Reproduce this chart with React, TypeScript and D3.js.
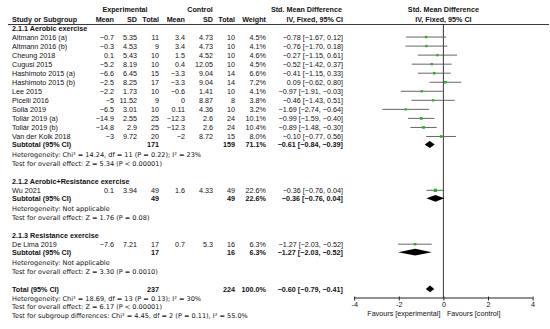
import React, { useEffect, useRef } from 'react';
import * as d3 from 'd3';

// study level data
const studyNames = [
  'Altmann 2016  (a)', 'Altmann 2016  (b)', 'Cheung 2018', 'Cugusi 2015',
  'Hashimoto 2015  (a)', 'Hashimoto 2015  (b)', 'Lee 2015', 'Picelli 2016',
  'Solla 2019', 'Tollár 2019  (a)', 'Tollár 2019  (b)', 'Van der Kolk 2018',
  'Wu 2021', 'De Lima 2019',
];
const studyGroup = [0, 0, 0, 0, 0, 0, 0, 0, 0, 0, 0, 0, 1, 2];
const expMean = [-0.7, -0.3, 0.1, -5.2, -6.6, -2.5, -2.2, -5, -6.5, -14.9, -14.8, -3, 0.1, -7.6];
const expSD = [5.35, 4.53, 5.43, 8.19, 6.45, 8.25, 1.73, 11.52, 3.01, 2.55, 2.9, 9.72, 3.94, 7.21];
const expN = [11, 9, 10, 10, 15, 17, 10, 9, 10, 25, 25, 20, 49, 17];
const ctlMean = [3.4, 3.4, 1.5, 0.4, -3.3, -3.3, -0.6, 0, 0.11, -12.3, -12.3, -2, 1.6, 0.7];
const ctlSD = [4.73, 4.73, 4.52, 12.05, 9.04, 9.04, 1.41, 8.87, 4.36, 2.6, 2.6, 8.72, 4.33, 5.3];
const ctlN = [10, 10, 10, 10, 14, 14, 10, 8, 10, 24, 24, 15, 49, 16];
const weight = [4.5, 4.1, 4.6, 4.5, 6.6, 7.2, 4.1, 3.8, 3.2, 10.1, 10.4, 8.0, 22.6, 6.3];
const smd = [-0.78, -0.76, -0.27, -0.52, -0.41, 0.09, -0.97, -0.46, -1.69, -0.99, -0.89, -0.10, -0.36, -1.27];
const ciLo = [-1.67, -1.70, -1.15, -1.42, -1.15, -0.62, -1.91, -1.43, -2.74, -1.59, -1.48, -0.77, -0.76, -2.03];
const ciHi = [0.12, 0.18, 0.61, 0.37, 0.33, 0.80, -0.03, 0.51, -0.64, -0.40, -0.30, 0.56, 0.04, -0.52];

// subgroups
const groupNames = ['2.1.1 Aerobic exercise', '2.1.2 Aerobic+Resistance exercise', '2.1.3 Resistance exercise'];
const groupExpN = [171, 49, 17];
const groupCtlN = [159, 49, 16];
const groupWeight = [71.1, 22.6, 6.3];
const groupSmd = [-0.61, -0.36, -1.27];
const groupLo = [-0.84, -0.76, -2.03];
const groupHi = [-0.39, 0.04, -0.52];
const groupHet = [
  'Heterogeneity: Chi² = 14.24, df = 11 (P = 0.22); I² = 23%',
  'Heterogeneity: Not applicable',
  'Heterogeneity: Not applicable',
];
const groupTest = [
  'Test for overall effect: Z = 5.34 (P < 0.00001)',
  'Test for overall effect: Z = 1.76 (P = 0.08)',
  'Test for overall effect: Z = 3.30 (P = 0.0010)',
];

// overall
const totalExpN = 237;
const totalCtlN = 224;
const totalWeight = 100.0;
const totalSmd = -0.60;
const totalLo = -0.79;
const totalHi = -0.41;
const totalNotes = [
  'Heterogeneity: Chi² = 18.69, df = 13 (P = 0.13); I² = 30%',
  'Test for overall effect: Z = 6.17 (P < 0.00001)',
  'Test for subgroup differences: Chi² = 4.45, df = 2 (P = 0.11), I² = 55.0%',
];

const axisTicks = [-4, -2, 0, 2, 4];

const W = 550;
const H = 329;
const FONT = '"Liberation Sans", Arial, sans-serif';
// the stats notes have wide "=" signs, closer to DejaVu metrics
const NOTE_FONT = '"DejaVu Sans", Verdana, sans-serif';

const neg = (s: string) => s.replace(/-/g, '\u2212');
const num = (v: number) => neg(String(v));
const fx2 = (v: number) => neg(v.toFixed(2));
const ciText = (m: number, lo: number, hi: number) => `${fx2(m)} [${fx2(lo)}, ${fx2(hi)}]`;
const pct = (v: number) => v.toFixed(1) + '%';

const App: React.FC = () => {
  const svgRef = useRef<SVGSVGElement>(null);

  useEffect(() => {
    if (!svgRef.current) return;
    const svg = d3.select(svgRef.current);
    svg.selectAll('*').remove();

    svg.append('rect').attr('width', W).attr('height', H).attr('fill', '#fff');

    // column right edges
    const col = {
      name: 12,
      eMean: 114, eSD: 137, eN: 159,
      cMean: 185, cSD: 213, cN: 235,
      wt: 266, ci: 343,
    };

    const x = d3.scaleLinear().domain([-4, 4]).range([354.2, 532.6]);
    const fs = 7.2;
    const base = 2.6; // center -> baseline

    const txt = (s: string, px: number, cy: number, anchor = 'start', bold = false) =>
      svg.append('text')
        .attr('x', px)
        .attr('y', cy + base)
        .attr('text-anchor', anchor)
        .attr('font-family', FONT)
        .attr('font-size', fs)
        .attr('font-weight', bold ? 'bold' : 'normal')
        .attr('fill', '#111')
        .text(s);

    const note = (s: string, cy: number) =>
      svg.append('text')
        .attr('x', 12)
        .attr('y', cy + base)
        .attr('font-family', NOTE_FONT)
        .attr('font-size', 6.55)
        .attr('fill', '#111')
        .text(s);

    // header
    txt('Experimental', 125, 9, 'middle', true);
    txt('Control', 200, 9, 'middle', true);
    txt('Std. Mean Difference', 342, 9, 'end', true);
    txt('Std. Mean Difference', x(0), 9, 'middle', true);
    txt('Study or Subgroup', col.name, 19, 'start', true);
    txt('Mean', col.eMean, 19, 'end', true);
    txt('SD', col.eSD, 19, 'end', true);
    txt('Total', col.eN, 19, 'end', true);
    txt('Mean', col.cMean, 19, 'end', true);
    txt('SD', col.cSD, 19, 'end', true);
    txt('Total', col.cN, 19, 'end', true);
    txt('Weight', col.wt, 19, 'end', true);
    txt('IV, Fixed, 95% CI', col.ci, 19, 'end', true);
    txt('IV, Fixed, 95% CI', x(0), 19, 'middle', true);

    const headerLine = 24.5;
    svg.append('line')
      .attr('x1', 8).attr('x2', 549)
      .attr('y1', headerLine).attr('y2', headerLine)
      .attr('stroke', '#222').attr('stroke-width', 0.9);

    const axisY = 298;

    // zero line
    svg.append('line')
      .attr('x1', x(0)).attr('x2', x(0))
      .attr('y1', headerLine).attr('y2', axisY)
      .attr('stroke', '#222').attr('stroke-width', 0.9);

    const plot = svg.append('g');
    const sq = (w: number) => 1.6 + Math.sqrt(w) * 0.35;

    const diamond = (m: number, lo: number, hi: number, cy: number) => {
      const hh = 3.4;
      plot.append('path')
        .attr('d', `M${x(lo)},${cy}L${x(m)},${cy - hh}L${x(hi)},${cy}L${x(m)},${cy + hh}Z`)
        .attr('fill', '#000');
    };

    let y = 28;
    groupNames.forEach((g, gi) => {
      txt(g, col.name, y, 'start', true);
      const idx = studyGroup.map((s, i) => (s === gi ? i : -1)).filter(i => i >= 0);
      idx.forEach(i => {
        y += 9.04;
        txt(studyNames[i], col.name, y);
        txt(num(expMean[i]), col.eMean, y, 'end');
        txt(num(expSD[i]), col.eSD, y, 'end');
        txt(String(expN[i]), col.eN, y, 'end');
        txt(num(ctlMean[i]), col.cMean, y, 'end');
        txt(num(ctlSD[i]), col.cSD, y, 'end');
        txt(String(ctlN[i]), col.cN, y, 'end');
        txt(pct(weight[i]), col.wt, y, 'end');
        txt(ciText(smd[i], ciLo[i], ciHi[i]), col.ci, y, 'end');

        plot.append('line')
          .attr('x1', x(ciLo[i])).attr('x2', x(ciHi[i]))
          .attr('y1', y).attr('y2', y)
          .attr('stroke', '#555').attr('stroke-width', 0.9);
        const s = sq(weight[i]);
        plot.append('rect')
          .attr('x', x(smd[i]) - s / 2).attr('y', y - s / 2)
          .attr('width', s).attr('height', s)
          .attr('fill', '#1fb51f');
      });
      y += 8;
      txt('Subtotal (95% CI)', col.name, y, 'start', true);
      txt(String(groupExpN[gi]), col.eN, y, 'end', true);
      txt(String(groupCtlN[gi]), col.cN, y, 'end', true);
      txt(pct(groupWeight[gi]), col.wt, y, 'end', true);
      txt(ciText(groupSmd[gi], groupLo[gi], groupHi[gi]), col.ci, y, 'end', true);
      diamond(groupSmd[gi], groupLo[gi], groupHi[gi], y);
      y += 10.2;
      note(groupHet[gi], y);
      y += 8.6;
      note(groupTest[gi], y);
      y += 18;
    });

    // total
    txt('Total (95% CI)', col.name, y, 'start', true);
    txt(String(totalExpN), col.eN, y, 'end', true);
    txt(String(totalCtlN), col.cN, y, 'end', true);
    txt(pct(totalWeight), col.wt, y, 'end', true);
    txt(ciText(totalSmd, totalLo, totalHi), col.ci, y, 'end', true);
    diamond(totalSmd, totalLo, totalHi, y);
    y += 9.3;
    totalNotes.forEach((n, i) => {
      note(n, y);
      y += i === 0 ? 8.4 : 9.2;
    });

    // axis
    const axis = d3.axisBottom(x)
      .tickValues(axisTicks)
      .tickSize(2.5)
      .tickPadding(1)
      .tickFormat(d => String(d));
    const ag = svg.append('g').attr('transform', `translate(0,${axisY})`).call(axis);
    ag.select('.domain').attr('stroke', '#222').attr('d', `M${x(-4)},0H${x(4)}`);
    ag.selectAll('.tick line').attr('stroke', '#222').attr('y1', -1.5);
    ag.selectAll('.tick text')
      .attr('font-family', FONT)
      .attr('font-size', fs)
      .attr('fill', '#111');

    txt('Favours [experimental]', x(0) - 3, 313.3, 'end');
    txt('Favours [control]', x(0) + 3.5, 313.3, 'start');
  }, []);

  return (
    <div style={{ position: 'absolute', left: 0, top: 0, width: W, height: H, background: '#fff' }}>
      <svg ref={svgRef} width={W} height={H} style={{ display: 'block' }} />
    </div>
  );
};

export default App;
